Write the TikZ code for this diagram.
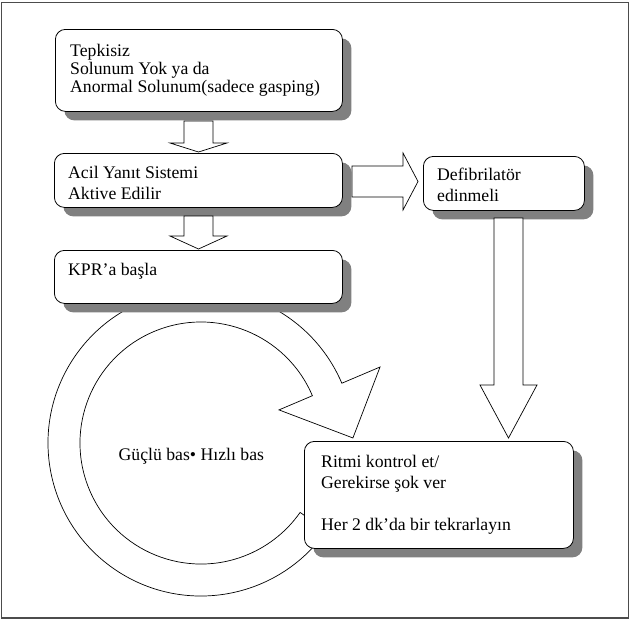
\documentclass[tikz,border=0pt]{standalone}
\usepackage{fontspec}
\setmainfont{Liberation Serif}
\usetikzlibrary{shadows,calc}
\begin{document}
\begin{tikzpicture}[x=1pt,y=-1pt,
  box/.style={draw=black,line width=0.8pt,rounded corners=10pt,fill=white,anchor=north west,inner sep=0pt,
    drop shadow={shadow xshift=9pt,shadow yshift=-9pt,fill=black!50,opacity=1}},
  txt/.style={anchor=base west,inner sep=0pt,align=left,font=\fontsize{17.7}{21}\selectfont},
  blockarrow/.style={draw=black,line width=0.7pt,fill=white,line join=miter}]
\useasboundingbox (0,0) rectangle (632,630);
\draw[line width=1.2pt,black!70] (1.5,2.5) rectangle (628.5,618);
% circular arrow
\coordinate (C) at (201,443);
\draw[blockarrow] ($(C)+(35:153)$) arc[start angle=35,end angle=337,radius=153]
  -- ($(C)+(337:194.5)$) -- ($(C)+(358.1:152)$) -- ($(C)+(337:84.7)$)
  -- ($(C)+(337:121)$) arc[start angle=337,end angle=35,radius=121] -- cycle;
% boxes
\node[box,minimum width=287pt,minimum height=82pt] (b1) at (55,29) {};
\node[box,minimum width=288pt,minimum height=54pt] (b2) at (54,153) {};
\node[box,minimum width=288pt,minimum height=53pt] (b3) at (54,250) {};
\node[box,minimum width=161pt,minimum height=54pt] (b4) at (423,156) {};
\node[box,minimum width=269pt,minimum height=107pt] (b5) at (304,441) {};
% block arrows
\draw[blockarrow] (184,121) -- (213,121) -- (213,143) -- (227,143) -- (198.5,152) -- (170,143) -- (184,143) -- cycle;
\draw[blockarrow] (184,216) -- (213,216) -- (213,236) -- (227,236) -- (198.5,249) -- (170,236) -- (184,236) -- cycle;
\draw[blockarrow] (352,166) -- (403,166) -- (403,153) -- (418,181.5) -- (403,210) -- (403,197) -- (352,197) -- cycle;
\draw[blockarrow] (494,218) -- (523,218) -- (523,385) -- (537,385) -- (508.5,438) -- (480,385) -- (494,385) -- cycle;
% texts (anchored at the baseline of the last line)
\node[txt,font=\fontsize{17.7}{18.4}\selectfont] (t1) at (70,92.8) {Tepkisiz\\Solunum Yok ya da\\Anormal Solunum(sadece gasping)};
\node[txt] (t2) at (68,199) {Acil Yanıt Sistemi\\Aktive Edilir};
\node[txt] (t3) at (68,275) {KPR’a başla};
\node[txt] (t4) at (437,201.7) {Defibrilatör\\edinmeli};
\node[txt] (t5) at (321,530) {Ritmi kontrol et/\\Gerekirse şok ver\\[21pt]Her 2 dk’da bir tekrarlayın};
\node[txt] (t6) at (118.5,460.5) {Güçlü bas• Hızlı bas};
\end{tikzpicture}
\end{document}
